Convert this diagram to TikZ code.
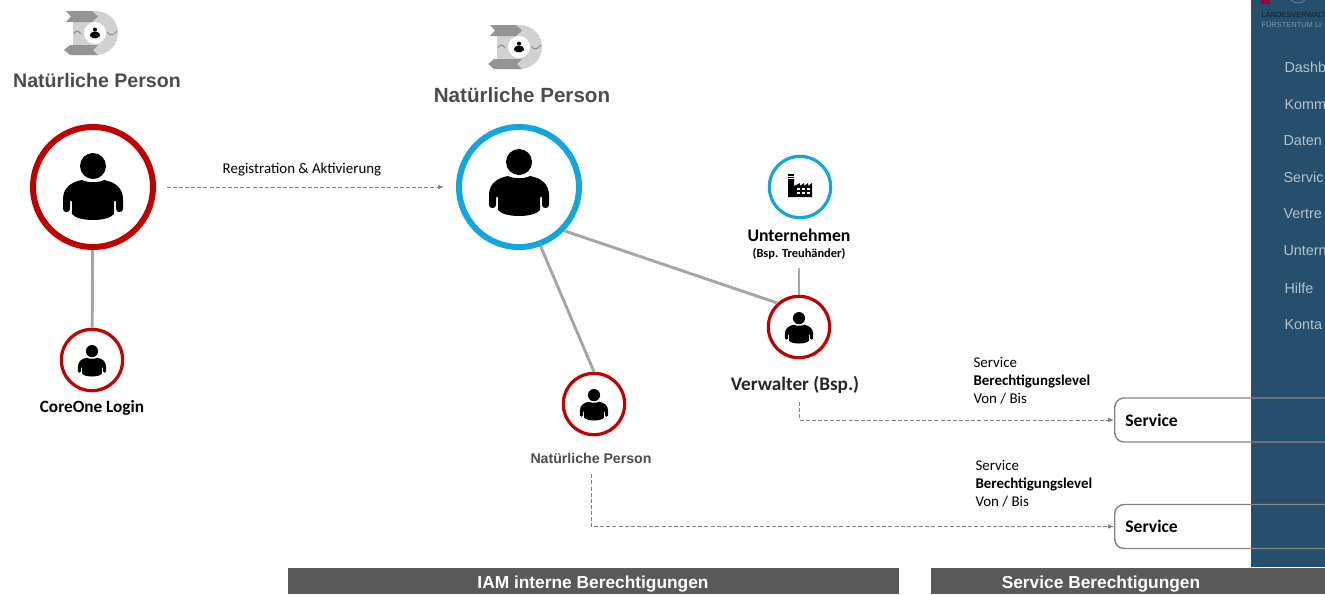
\documentclass[tikz,border=0pt]{standalone}
\usepackage{fontspec}
\setmainfont{Carlito}
\newfontfamily\headfont{Liberation Sans}
\usetikzlibrary{arrows.meta}
\definecolor{ringred}{HTML}{C00000}
\definecolor{ringblue}{HTML}{12A5DE}
\definecolor{sidebar}{HTML}{264F6E}
\definecolor{barGray}{HTML}{595959}
\definecolor{linkGray}{HTML}{A6A6A6}
\definecolor{dashGray}{HTML}{7F7F7F}
\tikzset{every picture/.style={line width=0.75pt}}
\tikzset{
	bigring/.style={circle,draw=#1,line width=4.5pt,fill=white,minimum size=90pt,inner sep=0pt},
	smallring/.style={circle,draw=#1,line width=2.4pt,fill=white,minimum size=46pt,inner sep=0pt},
	link/.style={draw=linkGray,line width=2.2pt},
	dashlink/.style={draw=dashGray,line width=0.7pt,dash pattern={on 3pt off 1.6pt},-{Latex[length=4.5pt,width=3.6pt]}},
	servicebox/.style={draw=linkGray!80!black,line width=1.1pt,rounded corners=7pt,minimum height=33pt,text width=310pt,inner sep=0pt,text depth=0pt,align=left,font=\bfseries\fontsize{13.2}{15}\selectfont,anchor=west},
	heading/.style={text=barGray!85!black,font=\headfont\bfseries\fontsize{#1}{16}\selectfont},
	menu/.style={anchor=west,inner sep=0pt,text=white!65!sidebar,font=\headfont\fontsize{10.8}{13}\selectfont},
	infotext/.style={anchor=north west,inner sep=0pt,align=left,font=\fontsize{11.2}{13.5}\selectfont},
	barlabel/.style={text=white,font=\headfont\bfseries\fontsize{13}{15}\selectfont},
	person/.pic={
		\begin{scope}[yscale=-1]
		\fill (0,-21) circle (13);
		\fill (-11,-7) .. controls (-5,-4) and (5,-4) .. (11,-7) .. controls (22,-5) and (30,1) .. (30,12) -- (30,22) .. controls (30,26) and (23,26) .. (23,22) -- (23,14) -- (21,14) -- (21,27) .. controls (15,35) and (-15,35) .. (-21,27) -- (-21,14) -- (-23,14) -- (-23,22) .. controls (-23,26) and (-30,26) .. (-30,22) -- (-30,12) .. controls (-30,1) and (-22,-5) .. (-11,-7) -- cycle;
		\end{scope}
	},
	factory/.pic={
		\begin{scope}[yscale=-1]
		\fill (-12,11) -- (-12,-7) -- (-6,-7) -- (-6,0) -- (0,-3) -- (0,0) -- (4,-3) -- (4,0) -- (8,-3) -- (8,0) -- (12,-3) -- (12,11) -- cycle;
		\fill (-12,-12) rectangle (-6,-10.5);
		\fill (-12,-9.5) rectangle (-6,-8);
		\foreach \wx in {-3,2,7}{
			\fill[white] (\wx,2) rectangle ++(3,2);
			\fill[white] (\wx,6) rectangle ++(3,2);
		}
		\end{scope}
	},
	logo/.pic={
		\begin{scope}[yscale=-1]
		\fill[black!18] (-20,-22) -- (3,-22) arc (-90:90:22) -- (-20,22) -- cycle;
		\fill[white] (2,0) circle (11);
		\fill[black!42] (-27,-22) -- (-1,-22) -- (5,-16.5) -- (-1,-11) -- (-27,-11) -- (-22,-16.5) -- cycle;
		\fill[black!42] (5,12) -- (-23,12) -- (-29,17) -- (-23,22) -- (5,22) -- (0,17) -- cycle;
		\draw[black!45,line width=0.7pt] (-19,1) .. controls (-17,-3) and (-15,-3) .. (-12,1);
		\draw[black!45,line width=0.7pt] (14,-1) .. controls (17,3) and (20,3) .. (24,-2);
		\path (2,0) pic [scale=0.16] {person};
		\end{scope}
	}
}
\begin{document}
\begin{tikzpicture}[x=0.75pt,y=0.75pt,yscale=-1,xscale=1]
	\useasboundingbox (0,0) rectangle (1325,594);
	%Shape: Sidebar
	\fill [sidebar] (1251,0) rectangle (1325,567);
	\fill [ringred!80!blue] (1261,0) rectangle (1270,4);
	\draw [sidebar!60!white,line width=0.4pt] (1298,-6) circle (9);
	% Text Node
	\draw (1261,15) node [anchor=west,inner sep=0pt,text=black!60!sidebar,font=\headfont\fontsize{5.6}{7}\selectfont] (logoTopLine) {LANDESVERWALT};
	% Text Node
	\draw (1261,24) node [anchor=west,inner sep=0pt,text=sidebar!60!white,font=\headfont\fontsize{5.6}{7}\selectfont] (logoBottomLine) {FÜRSTENTUM LI};

	% Text Node
	\draw (1284,67) node [menu] (menuDash) {Dashb};
	% Text Node
	\draw (1284,105) node [menu] (menuKomm) {Komm};
	% Text Node
	\draw (1283,141) node [menu] (menuDaten) {Daten};
	% Text Node
	\draw (1283,177) node [menu] (menuServ) {Servic};
	% Text Node
	\draw (1283,214) node [menu] (menuVert) {Vertre};
	% Text Node
	\draw (1283,251) node [menu] (menuUnt) {Untern};
	% Text Node
	\draw (1284,288) node [menu] (menuHilfe) {Hilfe};
	% Text Node
	\draw (1284,325) node [menu] (menuKont) {Konta};

	%Shape: Logos
	\path (93,33) pic {logo};
	\path (517,47) pic {logo};
	% Text Node
	\draw (97,80) node [heading=14.7] (titleLeft) {Natürliche Person};
	% Text Node
	\draw (522,95) node [heading=15.45] (titleMid) {Natürliche Person};

	% Person Nodes
	\draw (93,187) node [bigring=ringred] (personRed) {};
	\draw (519,187) node [bigring=ringblue] (personBlue) {};
	\draw (92,360) node [smallring=ringred] (coreOne) {};
	\draw (594,404) node [smallring=ringred] (natPerson) {};
	\draw (799,327) node [smallring=ringred] (verwalter) {};
	\draw (800,187) node [smallring=ringblue] (company) {};
	\path (93,187) pic {person};
	\path (519,183) pic {person};
	\path (92,361) pic [scale=0.47] {person};
	\path (594,405) pic [scale=0.47] {person};
	\path (799,328) pic [scale=0.47] {person};
	\path (800,186) pic {factory};

	% Text Node
	\draw (92,408) node [font=\bfseries\fontsize{12.9}{14}\selectfont] (coreOneLabel) {CoreOne Login};
	% Text Node
	\draw (799,235) node [inner sep=1pt,font=\bfseries\fontsize{13.3}{15}\selectfont] (companyLabel) {Unternehmen};
	% Text Node
	\draw (799,254) node [inner xsep=1pt,inner ysep=6pt,font=\bfseries\fontsize{9.3}{10}\selectfont] (companyNote) {(Bsp. Treuhänder)};
	% Text Node
	\draw (795,385) node [inner sep=6pt,font=\bfseries\fontsize{14.4}{16}\selectfont,text=black!85] (verwalterLabel) {Verwalter (Bsp.)};
	% Text Node
	\draw (591,458) node [inner sep=8pt,heading=10.6] (natPersonLabel) {Natürliche Person};
	% Text Node
	\draw (302,170) node [font=\fontsize{11.2}{13}\selectfont] (regLabel) {Registration \& Aktivierung};

	% Service Boxes
	\draw (1114,420) node [servicebox] (serviceTop) {\hspace{8pt}Service};
	\draw (1114,526.5) node [servicebox] (serviceBottom) {\hspace{8pt}Service};
	% Text Node
	\draw (973,357) node [infotext] (infoTop) {Service\\\textbf{Berechtigungslevel}\\Von / Bis};
	% Text Node
	\draw (975,460) node [infotext] (infoBottom) {Service\\\textbf{Berechtigungslevel}\\Von / Bis};

	%Straight Lines
	\draw [link] (personRed) -- (coreOne);
	\draw [link] (personBlue.-44) -- (verwalter.132);
	\draw [link] (personBlue.-70) -- (natPerson.90);
	\draw [link] (companyNote.south -| verwalter) -- (verwalter);
	%Dashed Lines
	\draw [dashlink,shorten <=8pt,shorten >=9pt] (personRed) -- (personBlue);
	\draw [dashlink] (verwalterLabel.south -| verwalter) |- (serviceTop.west);
	\draw [dashlink] (natPersonLabel.south) |- (serviceBottom.west);

	%Shape: Bottom Bars
	\draw (593.5,581) node [fill=barGray,minimum width=458pt,minimum height=19.5pt,inner sep=0pt] (barLeft) {};
	\draw (1128,581) node [fill=barGray,minimum width=296pt,minimum height=19.5pt,inner sep=0pt] (barRight) {};
	% Text Node
	\draw (593,584) node [barlabel] (barLeftText) {IAM interne Berechtigungen};
	% Text Node
	\draw (1101,584) node [barlabel] (barRightText) {Service Berechtigungen};
\end{tikzpicture}
\end{document}
